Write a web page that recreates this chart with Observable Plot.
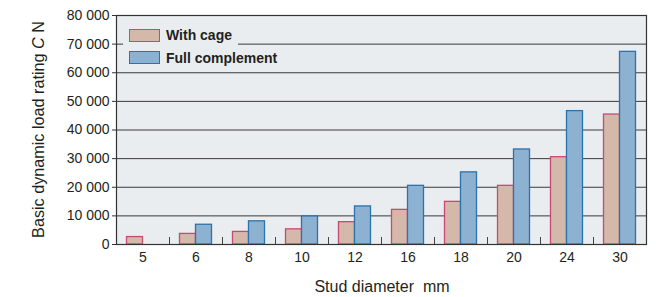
<!DOCTYPE html>
<html>
<head>
<meta charset="utf-8">
<script src="https://cdn.jsdelivr.net/npm/d3@7"></script>
<script src="https://cdn.jsdelivr.net/npm/@observablehq/plot@0.6"></script>
<style>
  body { margin: 0; background: white; }
  #wrap { position: relative; width: 656px; height: 297px; font-family: "Liberation Sans", Arial, sans-serif; }
  #legend { position: absolute; left: 123px; top: 22px; width: 115px; height: 46px; background: #e9edf0; }
  .item { position: absolute; left: 6px; height: 14px; display: flex; align-items: center; }
  .sw { width: 29px; height: 11px; border-width: 1.3px; border-style: solid; margin-right: 6px; flex: none; }
  .lbl { font-size: 14px; font-weight: bold; color: #231f20; white-space: nowrap; }
</style>
</head>
<body>
<div id="wrap"></div>
<script>
const diameters = ["5", "6", "8", "10", "12", "16", "18", "20", "24", "30"];
const withCage = [2600, 3700, 4400, 5300, 7800, 12100, 14900, 20500, 30500, 45400];
const fullComplement = [null, 6900, 8100, 9800, 13300, 20500, 25200, 33200, 46600, 67300];
const yTicks = [0, 10000, 20000, 30000, 40000, 50000, 60000, 70000, 80000];
const seriesNames = ["With cage", "Full complement"];

const cageFill = "#d4b8a9", cageStroke = "#c84a72";
const fullFill = "#8db1d0", fullStroke = "#2c73ab";

const rows = diameters.map((d, i) => ({d, cage: withCage[i], full: fullComplement[i]}));
const W = 656, mL = 116, mR = 10;
const band = (W - mL - mR) / diameters.length;
const barW = 16;

const fmt = v => d3.format(",")(v).replace(/,/g, " ");

const svg = Plot.plot({
  width: W, height: 297,
  marginLeft: mL, marginRight: mR, marginTop: 15, marginBottom: 53,
  style: {fontFamily: "'Liberation Sans', Arial, sans-serif", fontSize: "14px", color: "#231f20", background: "white", overflow: "visible"},
  x: {domain: diameters, padding: 0},
  y: {domain: [0, 80000]},
  marks: [
    Plot.frame({fill: "#e9edf0"}),
    Plot.gridY(yTicks, {stroke: "#3a3a3a", strokeOpacity: 1, strokeWidth: 1}),
    Plot.ruleX(diameters.slice(1), {x: d => d, y1: 0, y2: 2450, dx: -band / 2, stroke: "#444", strokeWidth: 1}),
    Plot.barY(rows.filter(r => r.cage != null), {x: "d", y: "cage", fill: cageFill, stroke: cageStroke, strokeWidth: 1.3, insetLeft: band / 2 - barW, insetRight: band / 2}),
    Plot.barY(rows.filter(r => r.full != null), {x: "d", y: "full", fill: fullFill, stroke: fullStroke, strokeWidth: 1.3, insetLeft: band / 2, insetRight: band / 2 - barW}),
    Plot.axisY(yTicks, {tickFormat: fmt, tickSize: 4, tickPadding: 3, label: null, stroke: "#333"}),
    Plot.axisX({tickSize: 0, tickPadding: 8, label: null}),
    Plot.frame({stroke: "#333", strokeWidth: 1.2})
  ]
});

const s = d3.select(svg);
const yl = s.append("text")
  .attr("transform", `translate(38,129.5) rotate(-90)`)
  .attr("text-anchor", "middle")
  .attr("dominant-baseline", "central")
  .style("font-size", "16.2px")
  .attr("fill", "#231f20");
yl.append("tspan").text("Basic dynamic load rating ");
yl.append("tspan").style("font-style", "italic").text("C");
yl.append("tspan").text(" N");

s.append("text")
  .attr("x", 382).attr("y", 286)
  .attr("text-anchor", "middle")
  .attr("dominant-baseline", "central")
  .style("font-size", "16px")
  .attr("fill", "#231f20")
  .text("Stud diameter  mm");

const wrap = document.getElementById("wrap");
wrap.appendChild(svg);

const legend = document.createElement("div");
legend.id = "legend";
const swatches = [[cageFill, cageStroke], [fullFill, fullStroke]];
seriesNames.forEach((name, i) => {
  const item = document.createElement("div");
  item.className = "item";
  item.style.top = (6 + i * 22.5) + "px";
  const sw = document.createElement("div");
  sw.className = "sw";
  sw.style.background = swatches[i][0];
  sw.style.borderColor = swatches[i][1];
  const lbl = document.createElement("span");
  lbl.className = "lbl";
  lbl.textContent = name;
  item.appendChild(sw);
  item.appendChild(lbl);
  legend.appendChild(item);
});
wrap.appendChild(legend);
</script>
</body>
</html>
